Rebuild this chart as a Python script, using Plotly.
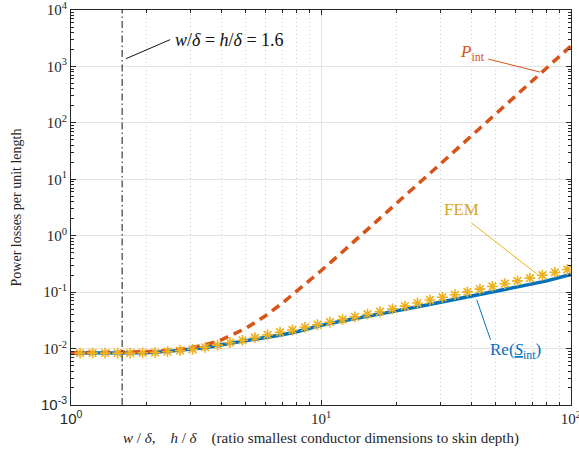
import math
import plotly.graph_objects as go

# Normalised conductor size (w/delta = h/delta)
ratio = [1, 1.5, 2, 2.5, 3, 3.5, 4, 5, 6, 7, 8, 10, 12, 15, 20, 25, 30, 40, 50, 60, 70, 80, 100]
# Real part of the internal complex power, Re(S_int)
re_s_int = [0.0083, 0.0083, 0.0084, 0.0090, 0.0098, 0.0104, 0.0117, 0.0137, 0.0153, 0.0176,
            0.0198, 0.0258, 0.0305, 0.0372, 0.0465, 0.0560, 0.0655, 0.0845, 0.103, 0.121,
            0.140, 0.158, 0.205]
# Internal power loss estimate P_int
p_int = [0.0084, 0.00852, 0.00877, 0.0093, 0.0103, 0.0119, 0.0143, 0.0228, 0.0382, 0.0637,
         0.103, 0.239, 0.486, 1.17, 3.69, 9.0, 18.6, 58.9, 144, 298, 553, 943, 2300]

# FEM reference solution
fem_ratio = [1.086, 1.219, 1.368, 1.535, 1.722, 1.932, 2.168, 2.432, 2.729, 3.062,
             3.436, 3.855, 4.325, 4.853, 5.445, 6.109, 6.855, 7.691, 8.630, 9.683,
             10.86, 12.19, 13.68, 15.35, 17.22, 19.32, 21.68, 24.32, 27.29, 30.62,
             34.36, 38.55, 43.25, 48.53, 54.45, 61.09, 68.55, 76.91, 86.30, 96.83]
fem_loss = [0.0083, 0.0083, 0.0083, 0.0083, 0.0083, 0.0084, 0.0085, 0.0088, 0.0092, 0.0097,
            0.0105, 0.0115, 0.0127, 0.0140, 0.0156, 0.0175, 0.0195, 0.0213, 0.0237, 0.0264,
            0.0293, 0.0327, 0.0365, 0.0406, 0.0449, 0.0505, 0.0565, 0.0640, 0.0725, 0.0810,
            0.0900, 0.1010, 0.113, 0.126, 0.141, 0.158, 0.177, 0.199, 0.224, 0.252]

marked_ratio = 1.6

x_tickvals = [1, 10, 100]
x_ticktext = ['<span style="font-family:Liberation Sans">10<sup>0</sup></span>',
              '10<sup>1</sup>', '10<sup>2</sup>']
y_tickvals = [1e-3, 1e-2, 1e-1, 1e0, 1e1, 1e2, 1e3, 1e4]
y_ticktext = ['<span style="font-family:Liberation Sans">10<sup>-3</sup></span>',
              '10<sup>-2</sup>', '10<sup>-1</sup>', '10<sup>0</sup>',
              '10<sup>1</sup>', '10<sup>2</sup>', '10<sup>3</sup>', '10<sup>4</sup>']

BLUE = "#0072BD"
RED = "#D95319"
YELLOW = "#EDB120"
SERIF = "Liberation Serif"
INK = "#262626"

fig = go.Figure()

fig.add_trace(go.Scatter(x=ratio, y=re_s_int, mode="lines",
                         line=dict(color=BLUE, width=3.5), hoverinfo="skip"))
fig.add_trace(go.Scatter(x=ratio, y=p_int, mode="lines",
                         line=dict(color=RED, width=3.5, dash="9px,6px"), hoverinfo="skip"))
fig.add_trace(go.Scatter(x=fem_ratio, y=fem_loss, mode="markers",
                         marker=dict(symbol="asterisk-open", size=9, color=YELLOW,
                                     line=dict(color=YELLOW, width=1.6)),
                         hoverinfo="skip"))

# vertical marker at w/delta = h/delta = 1.6
fig.add_trace(go.Scatter(x=[marked_ratio, marked_ratio], y=[1e-3, 1e4], mode="lines",
                         line=dict(color="#111111", width=1, dash="7px,3px,1.5px,3px"),
                         hoverinfo="skip"))

# leader lines from labels to curves
leaders = [
    ([1.66, 2.49], [1375, 2985], "#111111"),
    ([46.7, 75.2], [1352, 796], RED),
    ([40.1, 73.3], [1.67, 0.208], YELLOW),
    ([42.0, 47.7], [0.0733, 0.0143], BLUE),
]
for lx, ly, c in leaders:
    fig.add_trace(go.Scatter(x=lx, y=ly, mode="lines", line=dict(color=c, width=1),
                             hoverinfo="skip"))

def ann(text, x, y, color, xanchor="left", size=17):
    return dict(text=text, x=math.log10(x), y=math.log10(y), xref="x", yref="y",
                showarrow=False, xanchor=xanchor, yanchor="middle",
                font=dict(family=SERIF, size=size, color=color))

fig.update_layout(
    width=579, height=458,
    margin=dict(l=71, r=8, t=10, b=53, autoexpand=False),
    paper_bgcolor="white", plot_bgcolor="white",
    showlegend=False,
    font=dict(family=SERIF, size=14, color=INK),
    annotations=[
        ann("<i>w</i>/<i>δ</i> = <i>h</i>/<i>δ</i> = 1.6", 2.56, 2950, "#111111", size=18),
        ann("<i>P</i><sub>int</sub>", 46.2, 1750, RED, xanchor="right"),
        ann("FEM", 36.6, 2.9, "#D9A520", xanchor="center"),
        ann("Re(<i><u>S</u></i><sub>int</sub>)", 46.5, 0.0090, BLUE),
    ],
    xaxis=dict(
        type="log", range=[-0.0005, 2.0005], automargin=False,
        tickvals=x_tickvals, ticktext=x_ticktext, ticklabeloverflow="allow",
        ticks="inside", ticklen=5, tickcolor=INK,
        showline=True, linecolor=INK, linewidth=1, mirror="ticks",
        showgrid=True, gridcolor="#e2e2e2", gridwidth=1, zeroline=False,
        tickfont=dict(family=SERIF, size=15, color=INK),
        minor=dict(tickvals=[2, 3, 4, 5, 6, 7, 8, 9, 20, 30, 40, 50, 60, 70, 80, 90],
                   ticks="inside", ticklen=3, tickcolor=INK,
                   showgrid=True, gridcolor="#cccccc", griddash="1px,3px", gridwidth=1),
        title=dict(text="<i>w</i> / <i>δ</i>,\u00a0\u00a0\u00a0\u00a0<i>h</i> / <i>δ</i>"
                        "\u00a0\u00a0\u00a0\u00a0(ratio smallest conductor dimensions to skin depth)",
                   font=dict(family=SERIF, size=15, color=INK), standoff=6),
    ),
    yaxis=dict(
        type="log", range=[-3.0005, 4.0005], automargin=False,
        tickvals=y_tickvals, ticktext=y_ticktext, ticklabeloverflow="allow",
        ticks="inside", ticklen=5, tickcolor=INK,
        showline=True, linecolor=INK, linewidth=1, mirror="ticks",
        showgrid=True, gridcolor="#e2e2e2", gridwidth=1, zeroline=False,
        tickfont=dict(family=SERIF, size=15, color=INK),
        minor=dict(tickvals=[m * 10 ** e for e in range(-3, 4) for m in range(2, 10)],
                   ticks="inside", ticklen=3, tickcolor=INK, showgrid=False),
        title=dict(text="Power losses per unit length",
                   font=dict(family=SERIF, size=14, color=INK), standoff=16),
    ),
)

fig.write_html("out.html")
